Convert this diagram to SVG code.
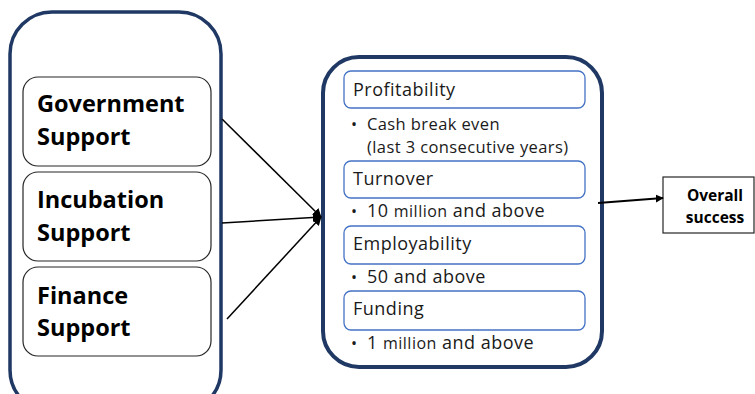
<svg xmlns="http://www.w3.org/2000/svg" width="755" height="394" viewBox="0 0 755 394">
<defs>
<style>
.outer{fill:#fff;stroke:#1f3864;stroke-width:3.5}
.inL{fill:#fff;stroke:#262626;stroke-width:1.2}
.inM{fill:#fff;stroke:#4472c4;stroke-width:1.3}
.bold{font-family:"Open Sans","Liberation Sans",sans-serif;font-weight:bold;font-size:23.5px;fill:#000}
.hd{font-family:"Open Sans","Liberation Sans",sans-serif;font-size:18px;letter-spacing:0.5px;fill:#1a1a1a}
.reg{font-family:"Open Sans","Liberation Sans",sans-serif;font-size:18px;letter-spacing:0.5px;fill:#1a1a1a}
.sm{font-family:"Open Sans","Liberation Sans",sans-serif;font-size:16.5px;letter-spacing:0.4px;fill:#1a1a1a}
.bul{font-family:"Open Sans","Liberation Sans",sans-serif;font-size:16px;fill:#1a1a1a}
.mil{font-size:16px}
.ov{font-family:"Open Sans","Liberation Sans",sans-serif;font-weight:bold;font-size:15.5px;fill:#000}
.conn{stroke:#000;stroke-width:1.5;fill:none}
</style>
<marker id="ah" viewBox="0 0 10 10" refX="9" refY="5" markerWidth="8" markerHeight="8" orient="auto" markerUnits="userSpaceOnUse">
<path d="M0,0 L10,5 L0,10 z" fill="#000"/>
</marker>
<marker id="ah2" viewBox="0 0 10 10" refX="9" refY="5" markerWidth="9" markerHeight="9" orient="auto" markerUnits="userSpaceOnUse">
<path d="M0,0 L10,5 L0,10 z" fill="#000"/>
</marker>
</defs>
<rect width="755" height="394" fill="#fff"/>
<g id="left-container">
<rect class="outer" x="10" y="12" width="211" height="400" rx="42"/>
</g>
<g id="government">
<rect class="inL" x="23" y="77" width="188" height="89" rx="15"/>
<text class="bold" x="37" y="112">Government</text>
<text class="bold" x="37" y="145">Support</text>
</g>
<g id="incubation">
<rect class="inL" x="23" y="172" width="188" height="89" rx="15"/>
<text class="bold" x="37" y="208">Incubation</text>
<text class="bold" x="37" y="241">Support</text>
</g>
<g id="finance">
<rect class="inL" x="23" y="267" width="188" height="89" rx="15"/>
<text class="bold" x="37" y="304">Finance</text>
<text class="bold" x="37" y="336">Support</text>
</g>
<g id="middle-container">
<rect class="outer" x="323" y="57" width="279" height="310" rx="36" style="stroke-width:4"/>
</g>
<g id="profitability">
<rect class="inM" x="344" y="71" width="241" height="37" rx="7"/>
<text class="hd" x="353" y="96">Profitability</text>
<text class="bul" x="351" y="130">•</text>
<text class="sm" x="367" y="130">Cash break even</text>
<text class="sm" x="367" y="153">(last 3 consecutive years)</text>
</g>
<g id="turnover">
<rect class="inM" x="344" y="161" width="241" height="37" rx="7"/>
<text class="hd" x="353" y="185">Turnover</text>
<text class="bul" x="351" y="217">•</text>
<text class="reg" x="367" y="217">10 <tspan class="mil">million</tspan> and above</text>
</g>
<g id="employability">
<rect class="inM" x="344" y="226" width="241" height="38" rx="7"/>
<text class="hd" x="353" y="250">Employability</text>
<text class="bul" x="351" y="283">•</text>
<text class="reg" x="367" y="283">50 and above</text>
</g>
<g id="funding">
<rect class="inM" x="344" y="291" width="241" height="39" rx="7"/>
<text class="hd" x="353" y="315">Funding</text>
<text class="bul" x="351" y="349">•</text>
<text class="reg" x="367" y="349">1 <tspan class="mil">million</tspan> and above</text>
</g>
<g id="overall-success">
<rect x="663" y="177" width="91" height="56" fill="#fff" stroke="#262626" stroke-width="1.2"/>
<text class="ov" x="715" y="201" text-anchor="middle">Overall</text>
<text class="ov" x="715" y="223" text-anchor="middle">success</text>
</g>
<g id="connectors">
<line class="conn" x1="222" y1="119" x2="321" y2="217" marker-end="url(#ah2)"/>
<line class="conn" x1="222" y1="223" x2="321" y2="217" marker-end="url(#ah2)"/>
<line class="conn" x1="227" y1="319" x2="321" y2="217" marker-end="url(#ah2)"/>
<line class="conn" x1="598" y1="203" x2="663" y2="198" marker-end="url(#ah)" style="stroke-width:2"/>
</g>
</svg>
